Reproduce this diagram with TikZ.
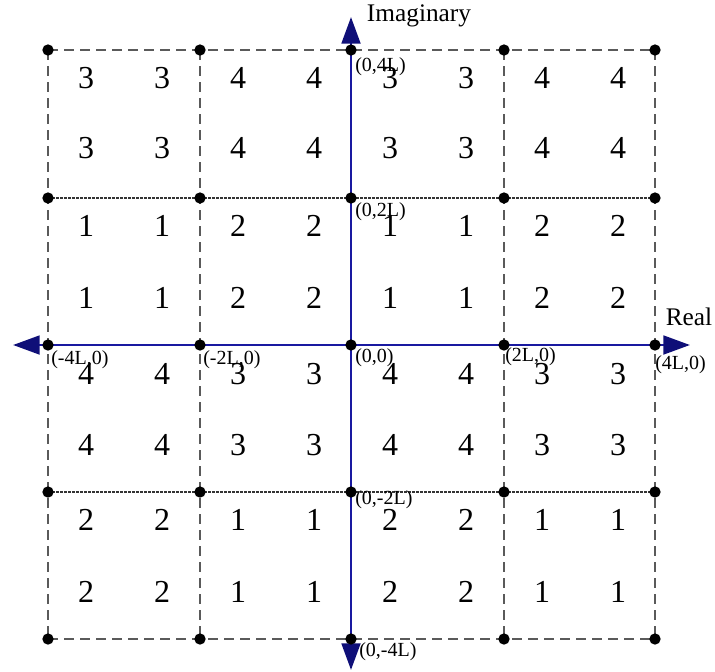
\documentclass[tikz,border=0pt]{standalone}
\usepackage{fontspec}
\setmainfont{Liberation Serif}
\usetikzlibrary{arrows.meta}
\definecolor{axisblue}{RGB}{25,25,160}
\definecolor{tipblue}{RGB}{15,15,120}
\definecolor{gridgray}{RGB}{90,90,90}
\begin{document}
\begin{tikzpicture}[x=0.75pt,y=-0.75pt,
  dot/.style={circle,fill=black,inner sep=0pt,minimum size=8.5pt},
  gridline/.style={draw=gridgray,line width=1.1pt,dash pattern=on 7.5pt off 4.5pt},
  fineline/.style={draw=black!80,line width=1.1pt,dash pattern=on 2pt off 1pt},
  axis/.style={draw=axisblue,line width=2.2pt},
  digit/.style={font=\fontsize{24}{24}\selectfont,inner sep=0pt},
  coord/.style={font=\fontsize{15}{15}\selectfont,inner sep=0pt,anchor=west},
  axlabel/.style={font=\fontsize{19}{19}\selectfont,inner sep=0pt}]
\useasboundingbox (0,0) rectangle (715,672);
% grid positions
\foreach \x [count=\i from 0] in {48,200,351,504,655}{
  \foreach \y [count=\j from 0] in {50,198,345,492,639}{
    \coordinate (p-\i-\j) at (\x,\y);
  }
}
% grid lines
\foreach \i in {0,...,4}{
  \draw[gridline] (p-\i-0) -- (p-\i-4);
}
\draw[gridline] (p-0-0) -- (p-4-0);
\draw[gridline] (p-0-4) -- (p-4-4);
\draw[fineline] (p-0-1) -- (p-4-1);
\draw[fineline] (p-0-3) -- (p-4-3);
% axes
\coordinate (ltip) at (13,345);
\coordinate (rtip) at (690,345);
\coordinate (ttip) at (351,17);
\coordinate (btip) at (351,670);
\draw[axis,{Triangle[length=20pt,width=14pt,fill=tipblue,color=tipblue]}-{Triangle[length=20pt,width=14pt,fill=tipblue,color=tipblue]}] (ltip) -- (rtip);
\draw[axis,{Triangle[length=20pt,width=14pt,fill=tipblue,color=tipblue]}-{Triangle[length=20pt,width=14pt,fill=tipblue,color=tipblue]}] (btip) -- (ttip);
% dots
\foreach \i in {0,...,4}{
  \foreach \j in {0,...,4}{
    \node[dot] (d-\i-\j) at (p-\i-\j) {};
  }
}
% digits
\foreach \r [count=\k from 0] in {78,148,226,298,374,445,520,592}{
  \pgfmathtruncatemacro{\blk}{int(\k/2)}
  \ifcase\blk
    \def\vals{3,3,4,4,3,3,4,4}\or
    \def\vals{1,1,2,2,1,1,2,2}\or
    \def\vals{4,4,3,3,4,4,3,3}\or
    \def\vals{2,2,1,1,2,2,1,1}\fi
  \foreach \v [count=\c from 0] in \vals{
    \pgfmathsetmacro{\cx}{86+76*\c}
    \node[digit] (n-\k-\c) at (\cx,\r) {\v};
  }
}
% coordinate labels
\node[coord] (l04) at (355,67) {(0,4L)};
\node[coord] (l02) at (355,212) {(0,2L)};
\node[coord] (l00) at (355,358) {(0,0)};
\node[coord] (l20) at (505,357) {(2L,0)};
\node[coord] (l40) at (655,365) {(4L,0)};
\node[coord] (lm40) at (51,360) {(-4L,0)};
\node[coord] (lm20) at (203,360) {(-2L,0)};
\node[coord] (l0m2) at (355,500) {(0,-2L)};
\node[coord] (l0m4) at (359,652) {(0,-4L)};
% axis labels
\node[axlabel] (imag) at (419,16) {Imaginary};
\node[axlabel] (real) at (689,317) {Real};
\end{tikzpicture}
\end{document}
